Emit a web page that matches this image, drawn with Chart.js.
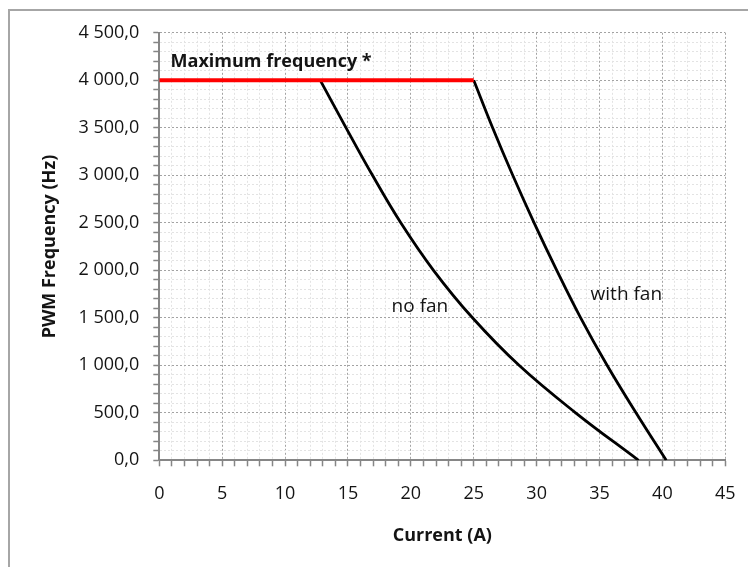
<!DOCTYPE html>
<html>
<head>
<meta charset="utf-8">
<script src="https://cdn.jsdelivr.net/npm/chart.js@4.4.1/dist/chart.umd.min.js"></script>
<style>
  html, body { margin: 0; padding: 0; background: #fff; }
  #wrap { position: relative; width: 748px; height: 567px; overflow: hidden; }
  #frame { position: absolute; left: 8px; top: 9px; width: 800px; height: 600px; border: 2px solid #a6a6a6; pointer-events: none; }
  canvas { position: absolute; left: 0; top: 0; }
</style>
</head>
<body>
<div id="wrap">
  <canvas id="c" width="748" height="567"></canvas>
  <div id="frame"></div>
</div>
<script>
// ---- data ----
const maxFreqCurrent = [0, 25];
const maxFreqValue   = [4000, 4000];

const noFanCurrent = [12.8, 14.85, 16.95, 19.2, 21.8, 24.9, 28.6, 33.1, 38.1];
const noFanFreq    = [4000, 3500, 3000, 2500, 2000, 1500, 1000, 500, 0];

const withFanCurrent = [25.0, 26.5, 28.1, 29.8, 31.6, 33.5, 35.6, 37.9, 40.3];
const withFanFreq    = [4000, 3500, 3000, 2500, 2000, 1500, 1000, 500, 0];

const xTickValues = [0, 5, 10, 15, 20, 25, 30, 35, 40, 45];
const xTickLabels = ['0', '5', '10', '15', '20', '25', '30', '35', '40', '45'];
const yTickValues = [0, 500, 1000, 1500, 2000, 2500, 3000, 3500, 4000, 4500];
const yTickLabels = ['0,0', '500,0', '1 000,0', '1 500,0', '2 000,0', '2 500,0', '3 000,0', '3 500,0', '4 000,0', '4 500,0'];

const annotationTexts = ['Maximum frequency *', 'no fan', 'with fan'];
const annotationX     = [0.9, 18.47, 34.29];
const annotationY     = [4143, 1564, 1687];
const annotationBold  = [true, false, false];

// ---- chart ----
const pts = (xs, ys) => xs.map((x, i) => ({ x: x, y: ys[i] }));

const FONT = "'Open Sans', sans-serif";
const MAJOR_GRID = '#a3a3a3';
const MINOR_GRID = '#e3e3e3';
const AXIS = '#868686';
const TEXT = '#141414';

const annotationPlugin = {
  id: 'annotations',
  afterDatasetsDraw(chart) {
    const { ctx, scales } = chart;
    ctx.save();
    ctx.fillStyle = TEXT;
    ctx.textBaseline = 'alphabetic';
    ctx.textAlign = 'left';
    annotationTexts.forEach((t, i) => {
      ctx.font = (annotationBold[i] ? 'bold 18px ' : '19px ') + FONT;
      ctx.fillText(t, scales.x.getPixelForValue(annotationX[i]), scales.y.getPixelForValue(annotationY[i]));
    });
    ctx.restore();
  }
};

new Chart(document.getElementById('c'), {
  type: 'scatter',
  data: {
    datasets: [
      { label: 'Maximum frequency', data: pts(maxFreqCurrent, maxFreqValue), showLine: true,
        borderColor: '#ff0000', borderWidth: 4, pointRadius: 0, borderCapStyle: 'butt' },
      { label: 'no fan', data: pts(noFanCurrent, noFanFreq), showLine: true,
        borderColor: '#000000', borderWidth: 2.8, pointRadius: 0, tension: 0.4 },
      { label: 'with fan', data: pts(withFanCurrent, withFanFreq), showLine: true,
        borderColor: '#000000', borderWidth: 2.8, pointRadius: 0, tension: 0.4 }
    ]
  },
  options: {
    responsive: false,
    animation: false,
    devicePixelRatio: 1,
    layout: { padding: { left: 39.2, right: 22.7, top: 32.8, bottom: 20.2 } },
    plugins: { legend: { display: false }, tooltip: { enabled: false } },
    scales: {
      x: {
        type: 'linear', min: 0, max: 45,
        afterFit: (s) => { s.height = 86.5; s.paddingRight = 0; s.paddingLeft = 0; },
        ticks: {
          stepSize: 1, autoSkip: false, maxRotation: 0, minRotation: 0,
          padding: 17, color: TEXT, font: { family: FONT, size: 18 },
          callback: (v) => { const i = xTickValues.indexOf(v); return i >= 0 ? xTickLabels[i] : ''; }
        },
        grid: {
          color: (c) => (c.tick && c.tick.value % 5 === 0) ? MAJOR_GRID : MINOR_GRID,
          lineWidth: 1, tickLength: 6, tickColor: AXIS, tickWidth: 1.5, tickBorderDash: []
        },
        border: { display: true, color: AXIS, width: 2, dash: [2, 2] },
        title: { display: true, text: 'Current (A)', color: TEXT, padding: 0,
                 font: { family: FONT, size: 18, weight: 'bold' } }
      },
      y: {
        type: 'linear', min: 0, max: 4500,
        afterFit: (s) => { s.width = 120.1; },
        ticks: {
          stepSize: 100, autoSkip: false,
          padding: 14, color: TEXT, font: { family: FONT, size: 18 },
          callback: (v) => { const i = yTickValues.indexOf(v); return i >= 0 ? yTickLabels[i] : ''; }
        },
        grid: {
          color: (c) => (c.tick && c.tick.value % 500 === 0) ? MAJOR_GRID : MINOR_GRID,
          lineWidth: 1, tickLength: 6, tickColor: AXIS, tickWidth: 1.5, tickBorderDash: []
        },
        border: { display: true, color: AXIS, width: 2, dash: [2, 2] },
        title: { display: true, text: 'PWM Frequency (Hz)', color: TEXT, padding: 0,
                 font: { family: FONT, size: 18, weight: 'bold' } }
      }
    }
  },
  plugins: [annotationPlugin]
});
</script>
</body>
</html>
